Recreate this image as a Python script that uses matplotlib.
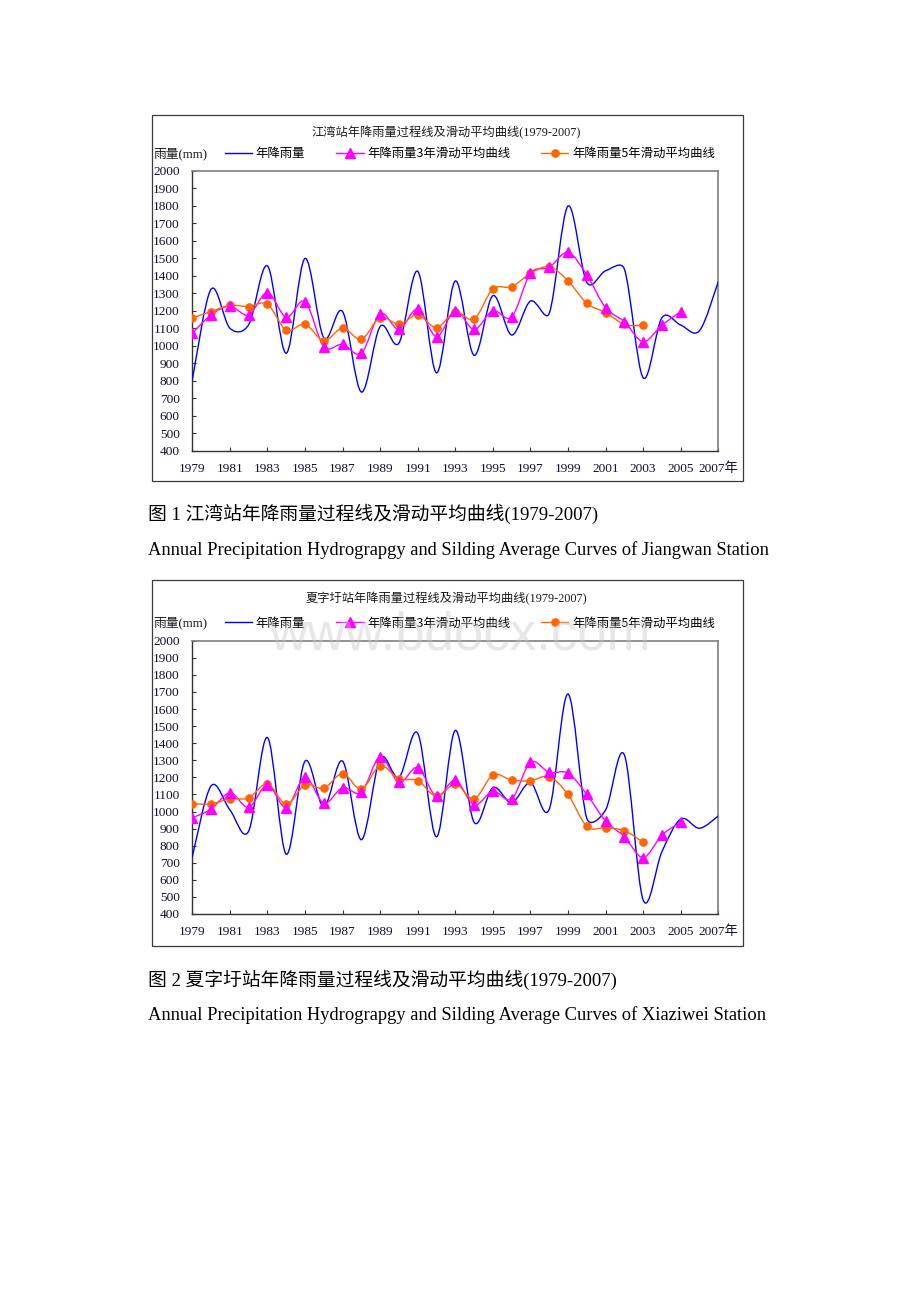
import numpy as np
import matplotlib
matplotlib.use('Agg')
import matplotlib.pyplot as plt
from matplotlib.path import Path
from matplotlib.patches import PathPatch, Rectangle
from matplotlib.lines import Line2D

# ---------------- data ----------------
years = list(range(1979, 2008))
ma3_years = list(range(1979, 2006))
ma5_years = list(range(1979, 2004))
tick_years = list(range(1979, 2008, 2))
tick_labels = [str(y) for y in tick_years[:-1]] + ['2007年']
y_ticks = list(range(400, 2001, 100))

series_names = ['年降雨量', '年降雨量3年滑动平均曲线', '年降雨量5年滑动平均曲线']

# Jiangwan station
jw_annual = [805, 1323, 1100, 1120, 1456, 957, 1499, 1045, 1195, 735,
             1110, 1015, 1425, 845, 1370, 945, 1286, 1061, 1255, 1185,
             1798, 1362, 1428, 1438, 817, 1160, 1118, 1086, 1366]
jw_ma3 = [1071, 1176, 1226, 1176, 1304, 1163, 1252, 995, 1008, 957,
          1182, 1094, 1210, 1052, 1200, 1093, 1200, 1164, 1413, 1448,
          1533, 1404, 1217, 1137, 1023, 1118, 1194]
jw_ma5 = [1159, 1195, 1230, 1224, 1237, 1089, 1123, 1029, 1100, 1037,
          1161, 1123, 1176, 1104, 1194, 1152, 1324, 1337, 1413, 1451,
          1371, 1242, 1189, 1122, 1116]

# Xiaziwei station
xz_annual = [735, 1150, 1010, 885, 1433, 750, 1295, 1028, 1295, 835,
             1310, 1200, 1458, 852, 1475, 937, 1140, 1052, 1169, 1013,
             1688, 960, 1009, 1331, 482, 765, 956, 902, 974]
xz_ma3 = [963, 1014, 1109, 1025, 1156, 1023, 1201, 1049, 1140, 1113,
          1320, 1170, 1257, 1088, 1184, 1038, 1120, 1073, 1288, 1229,
          1225, 1100, 944, 853, 730, 862, 937]
xz_ma5 = [1045, 1045, 1074, 1080, 1162, 1043, 1156, 1136, 1222, 1131,
          1267, 1191, 1181, 1088, 1161, 1073, 1214, 1184, 1180, 1204,
          1100, 913, 905, 888, 820]

titles = ['江湾站年降雨量过程线及滑动平均曲线(1979-2007)',
          '夏字圩站年降雨量过程线及滑动平均曲线(1979-2007)']
captions_cn = ['图 1 江湾站年降雨量过程线及滑动平均曲线(1979-2007)',
               '图 2 夏字圩站年降雨量过程线及滑动平均曲线(1979-2007)']
captions_en = ['Annual Precipitation Hydrograpgy and Silding Average Curves of Jiangwan Station',
               'Annual Precipitation Hydrograpgy and Silding Average Curves of Xiaziwei Station']
y_label = '雨量(mm)'
watermark = 'www.bdocx.com'

# ---------------- styles ----------------
W, H = 920, 1302
BLUE, PINK, ORANGE = '#0000FF', '#FF00FF', '#FF6600'
TICKC = '#101030'
SERIF_CJK = ['Liberation Serif', 'Noto Sans CJK SC']
SANS_CJK = ['Noto Sans CJK SC', 'DejaVu Sans']

fig = plt.figure(figsize=(W / 100, H / 100), dpi=100)
fig.patch.set_facecolor('white')


def fx(px):
    return px / W


def fy(py):
    return 1 - py / H


def smooth_patch(ax, x, y, color, lw):
    """Excel-style smoothed line: Bezier segments built in display space."""
    P = ax.transData.transform(np.column_stack([x, y]).astype(float))
    n = len(P)
    verts = [P[0]]
    codes = [Path.MOVETO]
    for i in range(n - 1):
        p0 = P[max(i - 1, 0)]
        p1 = P[i]
        p2 = P[i + 1]
        p3 = P[min(i + 2, n - 1)]
        d02 = np.hypot(*(p2 - p0))
        d12 = np.hypot(*(p2 - p1))
        d13 = np.hypot(*(p3 - p1))
        f1 = 1 / 6 if d02 / 6 < d12 / 2 else d12 / (2 * d02)
        f2 = 1 / 6 if d13 / 6 < d12 / 2 else d12 / (2 * d13)
        verts += [p1 + (p2 - p0) * f1, p2 - (p3 - p1) * f2, p2]
        codes += [Path.CURVE4] * 3
    dverts = ax.transData.inverted().transform(np.array(verts))
    return PathPatch(Path(dverts, codes), fill=False, edgecolor=color,
                     lw=lw, joinstyle='round', capstyle='round', zorder=3)


def draw_chart(box, plot, title, title_base, legend_y, annual, ma3, ma5,
               cap_cn, cap_en, cap_cn_y, cap_en_y):
    bx0, by0, bx1, by1 = box
    fig.add_artist(Rectangle((fx(bx0), fy(by1)), fx(bx1) - fx(bx0), fy(by0) - fy(by1),
                             transform=fig.transFigure, fill=False,
                             edgecolor='#3a3a3a', lw=0.9, zorder=0))
    px0, py0, px1, py1 = plot
    ax = fig.add_axes([fx(px0), fy(py1), fx(px1) - fx(px0), fy(py0) - fy(py1)])
    ax.set_xlim(1979, 2007)
    ax.set_ylim(400, 2000)
    ax.add_patch(smooth_patch(ax, years, annual, BLUE, 1.0))
    ax.add_patch(smooth_patch(ax, ma3_years, ma3, PINK, 1.0))
    ax.add_patch(smooth_patch(ax, ma5_years, ma5, ORANGE, 1.0))
    ax.plot(ma5_years, ma5, ls='none', marker='o', ms=5.2, color=ORANGE,
            mec=ORANGE, zorder=4)
    ax.plot(ma3_years, ma3, ls='none', marker='^', ms=6.5, color=PINK,
            mec=PINK, zorder=5)
    ax.set_xticks(tick_years)
    ax.set_xticklabels(tick_labels, family=SERIF_CJK)
    ax.set_yticks(y_ticks)
    ax.set_yticklabels([str(v) for v in y_ticks], family=SERIF_CJK)
    ax.tick_params(axis='both', direction='in', length=3, width=0.8,
                   color='#333333', labelsize=9.6, labelcolor=TICKC)
    ax.tick_params(axis='y', pad=9.0)
    ax.tick_params(axis='x', pad=8.5)
    for s in ['left', 'bottom']:
        ax.spines[s].set_color('#333333')
        ax.spines[s].set_linewidth(1.0)
    for s in ['top', 'right']:
        ax.spines[s].set_color('#7f7f7f')
        ax.spines[s].set_linewidth(1.2)

    fig.text(fx(446.5), fy(title_base), title, family=SERIF_CJK, fontsize=8.8,
             ha='center', va='baseline', color='#1a1a1a')
    fig.text(fx(153.5), fy(legend_y), y_label, family=SERIF_CJK, fontsize=9.2,
             ha='left', va='center', color='#1a1a1a')
    handles = [Line2D([], [], color=BLUE, lw=1.0),
               Line2D([], [], color=PINK, lw=1.0, marker='^', ms=6.5),
               Line2D([], [], color=ORANGE, lw=1.0, marker='o', ms=5.2)]
    fig.legend(handles, series_names, loc='center left', ncol=3,
               bbox_to_anchor=(fx(225), fy(legend_y)), bbox_transform=fig.transFigure,
               frameon=False, borderpad=0, borderaxespad=0, handlelength=2.2,
               handletextpad=0.3, columnspacing=2.5, numpoints=1,
               prop={'family': SANS_CJK, 'size': 8.9})

    fig.text(fx(148), fy(cap_cn_y), cap_cn, family=SERIF_CJK, fontsize=13.5,
             ha='left', va='center', color='black')
    fig.text(fx(148), fy(cap_en_y), cap_en, family=['Liberation Serif'], fontsize=13.3,
             ha='left', va='center', color='black')
    return ax


draw_chart((151.7, 114.7, 742.7, 481.5), (192.3, 170.7, 718.3, 450.7),
           titles[0], 136.5, 153.5, jw_annual, jw_ma3, jw_ma5,
           captions_cn[0], captions_en[0], 514, 550)
draw_chart((151.7, 579.7, 742.7, 945.7), (192.3, 640.7, 718.3, 914.0),
           titles[1], 602.5, 623.0, xz_annual, xz_ma3, xz_ma5,
           captions_cn[1], captions_en[1], 980, 1015)

fig.text(fx(460), fy(650), watermark, family=['Liberation Sans'], fontsize=38,
         ha='center', va='baseline', color='#c8c8c8', alpha=0.42, zorder=10)

fig.savefig('out.png', dpi=100, facecolor='white')
